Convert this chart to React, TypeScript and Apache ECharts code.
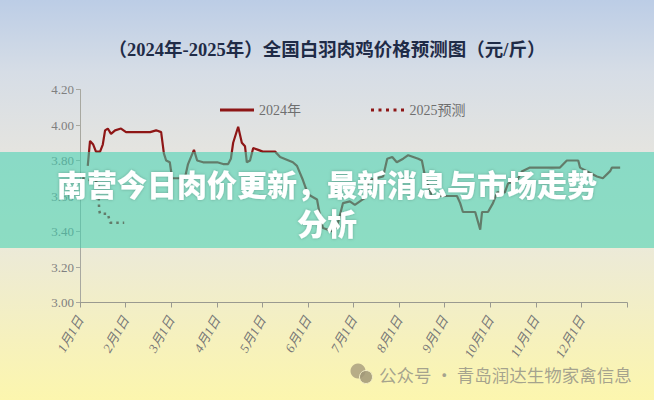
import React, { useEffect, useRef } from "react";
import * as echarts from "echarts";

const monthLabels = ["1月1日", "2月1日", "3月1日", "4月1日", "5月1日", "6月1日", "7月1日", "8月1日", "9月1日", "10月1日", "11月1日", "12月1日"];

// [month position (0 = Jan 1), price]
const price2024: [number, number][] = [
  [0.17, 3.77], [0.22, 3.91], [0.29, 3.89], [0.35, 3.85], [0.44, 3.85], [0.5, 3.89],
  [0.55, 3.97], [0.61, 3.98], [0.68, 3.95], [0.77, 3.97], [0.9, 3.98], [1.01, 3.96],
  [1.43, 3.96], [1.54, 3.96], [1.67, 3.97], [1.78, 3.96], [1.84, 3.84], [1.89, 3.8],
  [1.97, 3.79], [2.02, 3.7], [2.3, 3.7], [2.37, 3.78], [2.5, 3.86], [2.57, 3.8],
  [2.7, 3.79], [3.01, 3.79], [3.14, 3.78], [3.25, 3.78], [3.31, 3.81], [3.36, 3.9],
  [3.47, 3.99], [3.55, 3.9], [3.62, 3.88], [3.66, 3.79], [3.73, 3.8], [3.8, 3.87],
  [3.91, 3.86], [4.01, 3.85], [4.28, 3.85], [4.39, 3.82], [4.67, 3.79], [4.76, 3.77],
  [4.89, 3.69], [5.0, 3.61], [5.2, 3.58], [5.27, 3.48], [5.33, 3.42], [5.55, 3.4],
  [5.64, 3.43], [5.77, 3.56], [5.92, 3.57], [6.03, 3.55], [6.14, 3.57], [6.25, 3.59],
  [6.3, 3.66], [6.36, 3.69], [6.65, 3.71], [6.74, 3.81], [6.85, 3.82], [6.95, 3.79],
  [7.09, 3.81], [7.2, 3.83], [7.42, 3.81], [7.5, 3.8], [7.57, 3.71], [7.72, 3.6],
  [8.27, 3.6], [8.34, 3.56], [8.4, 3.51], [8.67, 3.51], [8.78, 3.41], [8.82, 3.51],
  [8.95, 3.51], [9.06, 3.56], [9.15, 3.62], [9.32, 3.62], [9.39, 3.67], [9.59, 3.69],
  [9.7, 3.74], [9.87, 3.76], [10.53, 3.76], [10.68, 3.8], [10.93, 3.8], [10.97, 3.76],
  [11.19, 3.73], [11.34, 3.71], [11.47, 3.7], [11.63, 3.74], [11.67, 3.76], [11.85, 3.76],
];

const forecast2025: [number, number][] = [
  [0.05, 3.7], [0.4, 3.68], [0.42, 3.52], [0.44, 3.5], [0.61, 3.5], [0.66, 3.45], [0.97, 3.45],
];

const titleText = "（2024年-2025年）全国白羽肉鸡价格预测图（元/斤）";
const seriesNames = ["2024年", "2025预测"];
const overlayLine1 = "南营今日肉价更新，最新消息与市场走势";
const overlayLine2 = "分析";
const watermark = "公众号 · 青岛润达生物家禽信息";

export default function App() {
  const ref = useRef<HTMLDivElement>(null);
  useEffect(() => {
    if (!ref.current) return;
    const chart = echarts.init(ref.current, null, { renderer: "svg" });
    const serif = "'Liberation Serif', 'Noto Sans CJK SC', serif";
    const overlayStyle = {
      fill: "#ffffff",
      fontFamily: "'Noto Sans CJK SC', sans-serif",
      fontSize: 30,
      fontWeight: 900,
      lineHeight: 30,
      textAlign: "center",
      textVerticalAlign: "middle",
      textShadowColor: "rgba(0,0,0,0.25)",
      textShadowBlur: 3,
    };
    chart.setOption({
      animation: false,
      title: {
        text: titleText,
        left: "center",
        top: 36,
        textStyle: { fontFamily: serif, fontSize: 18.5, fontWeight: "bold", color: "#1f2b47" },
      },
      legend: {
        left: 215,
        top: 98,
        itemWidth: 34,
        itemHeight: 3,
        itemGap: 70,
        textStyle: { fontFamily: serif, fontSize: 14, color: "#6f6f6f" },
        data: [
          { name: seriesNames[0], icon: "path://M0,0h34v3h-34z" },
          {
            name: seriesNames[1],
            icon: "path://M0,0h3v3h-3z M7.5,0h3v3h-3z M15,0h3v3h-3z M22.5,0h3v3h-3z M30,0h3v3h-3z",
          },
        ],
      },
      grid: { left: 80, right: 27, top: 89.5, bottom: 97.5 },
      xAxis: {
        type: "value",
        min: 0,
        max: 12,
        interval: 1,
        axisLine: { lineStyle: { color: "#9a9a90", width: 1.2 } },
        axisTick: { show: true, length: 5, lineStyle: { color: "#9a9a90" } },
        splitLine: { show: false },
        axisLabel: {
          rotate: 60,
          margin: 15,
          fontFamily: serif,
          fontStyle: "italic",
          fontSize: 13,
          color: "#777",
          formatter: (v: number) => (v < 12 ? monthLabels[Math.round(v)] : ""),
        },
      },
      yAxis: {
        type: "value",
        min: 3.0,
        max: 4.2,
        interval: 0.2,
        axisLine: { show: true, lineStyle: { color: "#a8a8a0" } },
        axisTick: { show: true, length: 4, lineStyle: { color: "#a8a8a0" } },
        splitLine: { show: false },
        axisLabel: {
          fontFamily: serif,
          fontSize: 13,
          color: "#7f7f7f",
          margin: 6,
          formatter: (v: number) => v.toFixed(2),
        },
      },
      series: [
        {
          name: seriesNames[0],
          type: "line",
          data: price2024,
          symbol: "none",
          lineStyle: { color: "#8e1616", width: 2.2 },
          itemStyle: { color: "#8e1616" },
          z: 3,
        },
        {
          name: seriesNames[1],
          type: "line",
          data: forecast2025,
          symbol: "none",
          lineStyle: { color: "#8e1616", width: 2.5, type: [2.5, 4] },
          itemStyle: { color: "#8e1616" },
          z: 2,
        },
      ],
      graphic: [
        {
          type: "rect",
          z: 100,
          shape: { x: 0, y: 152, width: 654, height: 96 },
          style: { fill: "rgba(62,210,177,0.55)" },
        },
        {
          type: "text",
          z: 101,
          x: 327,
          y: 183,
          style: { ...overlayStyle, text: overlayLine1 },
        },
        {
          type: "text",
          z: 101,
          x: 327,
          y: 222,
          style: { ...overlayStyle, text: overlayLine2 },
        },
        {
          type: "circle",
          z: 50,
          shape: { cx: 358, cy: 371, r: 7.5 },
          style: { fill: "rgba(160,150,120,0.75)" },
        },
        {
          type: "circle",
          z: 50,
          shape: { cx: 366, cy: 377, r: 6.5 },
          style: { fill: "rgba(160,150,120,0.85)", stroke: "#f4efc8", lineWidth: 1 },
        },
        {
          type: "text",
          z: 50,
          x: 379,
          y: 374,
          style: {
            text: watermark,
            fill: "rgba(150,148,135,0.85)",
            font: "17.5px 'Noto Sans CJK SC', sans-serif",
            textAlign: "left",
            textVerticalAlign: "middle",
          },
        },
      ],
    });
    return () => chart.dispose();
  }, []);
  return (
    <div
      style={{
        position: "fixed",
        left: 0,
        top: 0,
        width: 654,
        height: 400,
        background: "linear-gradient(180deg, #bccde6 0%, #d6dde6 18%, #e6e5df 40%, #ecead8 62%, #f6f1bd 85%, #fcf6ae 100%)",
      }}
    >
      <div ref={ref} style={{ width: 654, height: 400 }} />
    </div>
  );
}
